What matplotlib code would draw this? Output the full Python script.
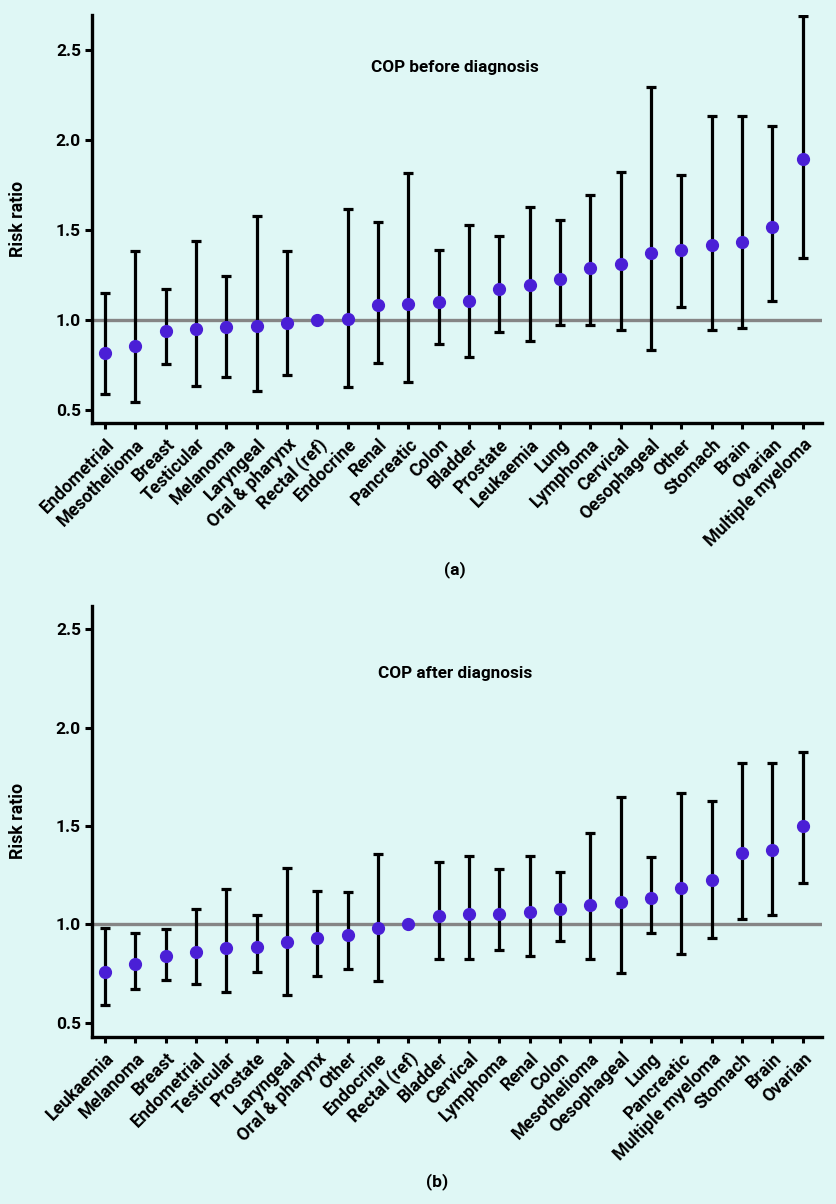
import matplotlib
matplotlib.use('Agg')
import matplotlib.pyplot as plt

plt.rcParams['font.family'] = ['Roboto', 'DejaVu Sans']
plt.rcParams['font.weight'] = 'bold'

# (a) COP before diagnosis
cats_a = ['Endometrial', 'Mesothelioma', 'Breast', 'Testicular', 'Melanoma', 'Laryngeal',
          'Oral & pharynx', 'Rectal (ref)', 'Endocrine', 'Renal', 'Pancreatic', 'Colon',
          'Bladder', 'Prostate', 'Leukaemia', 'Lung', 'Lymphoma', 'Cervical', 'Oesophageal',
          'Other', 'Stomach', 'Brain', 'Ovarian', 'Multiple myeloma']
rr_a = [0.818, 0.857, 0.939, 0.950, 0.959, 0.967, 0.980, 1.000, 1.004, 1.080, 1.087, 1.098,
        1.102, 1.169, 1.196, 1.226, 1.287, 1.309, 1.372, 1.389, 1.415, 1.430, 1.513, 1.893]
lo_a = [0.587, 0.541, 0.756, 0.633, 0.681, 0.602, 0.694, 1.000, 0.628, 0.761, 0.652, 0.865,
        0.793, 0.933, 0.880, 0.969, 0.974, 0.944, 0.831, 1.072, 0.944, 0.957, 1.107, 1.343]
hi_a = [1.148, 1.385, 1.174, 1.437, 1.244, 1.578, 1.381, 1.000, 1.613, 1.546, 1.818, 1.389,
        1.526, 1.465, 1.628, 1.557, 1.694, 1.820, 2.293, 1.807, 2.133, 2.130, 2.078, 2.690]

# (b) COP after diagnosis
cats_b = ['Leukaemia', 'Melanoma', 'Breast', 'Endometrial', 'Testicular', 'Prostate',
          'Laryngeal', 'Oral & pharynx', 'Other', 'Endocrine', 'Rectal (ref)', 'Bladder',
          'Cervical', 'Lymphoma', 'Renal', 'Colon', 'Mesothelioma', 'Oesophageal', 'Lung',
          'Pancreatic', 'Multiple myeloma', 'Stomach', 'Brain', 'Ovarian']
rr_b = [0.758, 0.798, 0.839, 0.861, 0.880, 0.883, 0.910, 0.931, 0.946, 0.981, 1.000, 1.042,
        1.054, 1.054, 1.064, 1.078, 1.097, 1.114, 1.134, 1.185, 1.225, 1.364, 1.376, 1.500]
lo_b = [0.588, 0.671, 0.717, 0.695, 0.658, 0.759, 0.642, 0.737, 0.771, 0.712, 1.000, 0.822,
        0.825, 0.869, 0.839, 0.917, 0.822, 0.754, 0.958, 0.849, 0.929, 1.025, 1.047, 1.208]
hi_b = [0.980, 0.958, 0.976, 1.080, 1.178, 1.049, 1.286, 1.171, 1.163, 1.356, 1.000, 1.317,
        1.347, 1.280, 1.347, 1.268, 1.463, 1.649, 1.341, 1.666, 1.625, 1.822, 1.819, 1.875]

bg = '#dff7f5'
dot = '#4a1fd6'

fig = plt.figure(figsize=(8.37, 12.04), dpi=100, facecolor=bg)
ax1 = fig.add_axes([0.110, 0.6487, 0.872, 0.3389])
ax2 = fig.add_axes([0.110, 0.139, 0.872, 0.3577])


def draw(ax, cats, rr, lo, hi, ylim, note, note_y):
    ax.set_facecolor(bg)
    x = list(range(len(cats)))
    err_lo = [r - l for r, l in zip(rr, lo)]
    err_hi = [h - r for r, h in zip(rr, hi)]
    ax.axhline(1.0, color='#858585', lw=2.4, zorder=1)
    ax.errorbar(x, rr, yerr=[err_lo, err_hi], fmt='none', ecolor='black',
                elinewidth=2.3, capsize=3.4, capthick=2.3, zorder=2)
    ax.plot(x, rr, 'o', color=dot, markersize=8.5, zorder=3)
    ax.set_xlim(-0.43, len(cats) - 1 + 0.63)
    ax.set_ylim(*ylim)
    ax.set_yticks([0.5, 1.0, 1.5, 2.0, 2.5])
    ax.set_yticklabels(['0.5', '1.0', '1.5', '2.0', '2.5'], fontsize=12.5, fontweight='bold')
    ax.set_xticks(x)
    ax.set_xticklabels(cats, rotation=45, ha='right', rotation_mode='anchor',
                       fontsize=12.8, fontweight='bold')
    ax.set_ylabel('Risk ratio', fontsize=12.8, fontweight='bold', labelpad=21)
    for s in ['top', 'right']:
        ax.spines[s].set_visible(False)
    for s in ['left', 'bottom']:
        ax.spines[s].set_linewidth(2.4)
    ax.tick_params(axis='y', width=2.2, length=5, pad=3)
    ax.tick_params(axis='x', width=2.2, length=4.5, pad=4.5)
    ax.text(0.497, note_y, note, transform=ax.transAxes, ha='center', va='center',
            fontsize=12.3, fontweight='bold')


draw(ax1, cats_a, rr_a, lo_a, hi_a, (0.427, 2.694), 'COP before diagnosis', 0.870)
draw(ax2, cats_b, rr_b, lo_b, hi_b, (0.429, 2.619), 'COP after diagnosis', 0.844)

fig.text(0.5436, 0.527, '(a)', ha='center', va='center', fontsize=12.5, fontweight='bold')
fig.text(0.5217, 0.0185, '(b)', ha='center', va='center', fontsize=12.5, fontweight='bold')

fig.savefig('out.png', dpi=100, facecolor=bg)
